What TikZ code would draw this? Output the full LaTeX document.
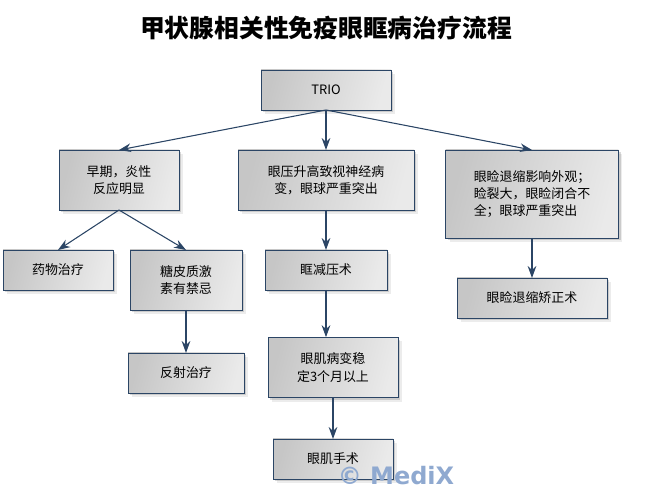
\documentclass[tikz,border=0pt]{standalone}
\usepackage{fontspec}
\setmainfont{Noto Sans CJK SC}
\newfontfamily\markfont{DejaVu Sans}
\usetikzlibrary{arrows.meta,shadows}
\definecolor{linecol}{HTML}{2B4565}
\definecolor{boxdark}{HTML}{C6C6C6}
\definecolor{boxlight}{HTML}{EAEAEA}
\definecolor{markcol}{HTML}{8FA9D0}
\tikzset{
	softshadow/.style={drop shadow={shadow xshift=3pt, shadow yshift=-3pt, opacity=0.15}, drop shadow={shadow xshift=1.8pt, shadow yshift=-1.8pt, opacity=0.3}},
	flowbox/.style={draw=linecol, line width=0.7pt, shading=axis, left color=boxdark, right color=boxlight, shading angle=75, softshadow, font=\fontsize{9.7pt}{13pt}\selectfont, align=center, inner sep=0pt, outer sep=0pt},
	flowline/.style={draw=linecol, line width=0.8pt, -{Stealth[length=9pt,width=6.5pt]}}
}
\begin{document}
\begin{tikzpicture}[x=0.75pt,y=-0.75pt]
	\useasboundingbox (0,0) rectangle (647,488);
	\node[font=\fontsize{18.6pt}{22pt}\selectfont\bfseries] (title) at (326,28) {甲状腺相关性免疫眼眶病治疗流程};
	% top box
	\node[flowbox, minimum width=97.5pt, minimum height=30pt] (trio) at (326,90) {TRIO};
	% left branch
	\node[flowbox, minimum width=90pt, minimum height=45pt] (early) at (119,180) {早期，炎性\\反应明显};
	\node[flowbox, minimum width=82.5pt, minimum height=30pt] (drug) at (58,270) {药物治疗};
	\node[flowbox, minimum width=84pt, minimum height=45pt] (steroid) at (186,280) {糖皮质激\\素有禁忌};
	\node[flowbox, minimum width=87pt, minimum height=30pt] (radio) at (186,373) {反射治疗};
	% middle branch
	\node[flowbox, minimum width=132pt, minimum height=45pt] (press) at (326,180) {眼压升高致视神经病\\变，眼球严重突出};
	\node[flowbox, minimum width=91.5pt, minimum height=30pt] (orbit) at (326,270) {眶减压术};
	\node[flowbox, minimum width=97.5pt, minimum height=45.5pt] (stable) at (333,367.5) {眼肌病变稳\\定3个月以上};
	\node[flowbox, minimum width=90pt, minimum height=30pt] (muscle) at (333,459) {眼肌手术};
	% right branch
	\node[flowbox, minimum width=129.5pt, minimum height=66pt, align=left] (lid) at (532,194) {眼睑退缩影响外观；\\睑裂大，眼睑闭合不\\全；眼球严重突出};
	\node[flowbox, minimum width=112.5pt, minimum height=30pt] (fix) at (532,298) {眼睑退缩矫正术};
	% arrows
	\draw[flowline] (trio.south) -- (early.north);
	\draw[flowline] (trio.south) -- (press.north);
	\draw[flowline] (trio.south) -- (lid.north);
	\draw[flowline] (early.south) -- (drug.north);
	\draw[flowline] (early.south) -- (steroid.north);
	\draw[flowline] (steroid.south) -- (radio.north);
	\draw[flowline] (press.south) -- (orbit.north);
	\draw[flowline] (orbit.south) -- (orbit.south |- stable.north);
	\draw[flowline] (stable.south) -- (muscle.north);
	\draw[flowline] (lid.south) -- (fix.north);
	% watermark
	\node[anchor=base, inner sep=0pt, font=\markfont\fontsize{18pt}{18pt}\selectfont\bfseries, text=markcol] (mark) at (396,484) {© MediX};
\end{tikzpicture}
\end{document}
